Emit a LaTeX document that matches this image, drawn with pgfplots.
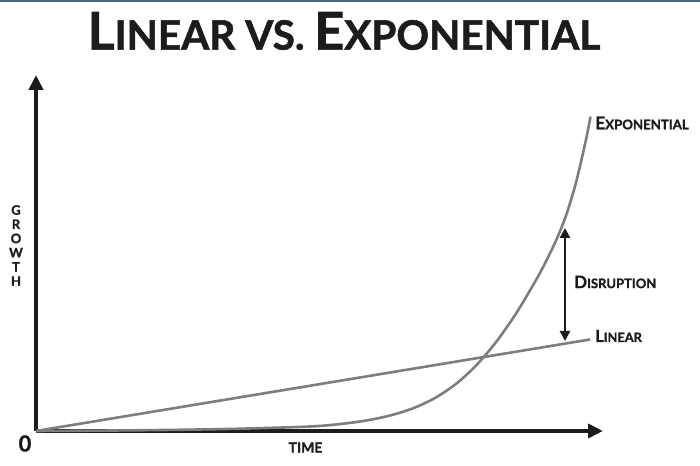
\documentclass[border=0pt]{standalone}
\usepackage{pgfplots}
\pgfplotsset{compat=1.18}
\usetikzlibrary{arrows.meta}
\usepackage{fontspec}
\setmainfont{Lato}
\newfontfamily\heavy{Lato}[BoldFeatures={FakeBold=1.3}]
\newcommand\SC[4]{{\fontsize{#1}{#1}\selectfont #3}{\fontsize{#2}{#2}\selectfont #4}}
\definecolor{curve}{RGB}{125,125,125}
\definecolor{axisblack}{RGB}{28,28,28}
\definecolor{topbar}{RGB}{74,102,133}
\begin{document}
\begin{tikzpicture}
\begin{axis}[
  x=1bp, y=1bp,
  xmin=0, xmax=567, ymin=0, ymax=356,
  enlargelimits=false,
  axis lines=left,
  axis line style={line width=4.5bp, draw=axisblack, -{Triangle[length=15bp,width=14bp]}},
  xtick=\empty, ytick=\empty,
  clip=false,
]
% bounding box of the whole picture (700 x 466 px)
\path (axis cs:-36,-35) rectangle (axis cs:664,431);
\fill[topbar] (axis cs:-36,429) rectangle (axis cs:664,431);

% linear
\addplot[curve, line width=2.6bp] coordinates {(0,0) (554,91.5)};
% exponential
\addplot[curve, line width=2.6bp, smooth, tension=0.5] coordinates {
(0,0) (50,0.3) (100,0.7) (150,1.3) (200,2.2) (250,3.6) (280,4.8) (300,6.5)
(320,8.9) (340,12.3) (360,17.1) (380,23.9) (400,33.6) (420,47.1) (440,65.4)
(460,88.9) (480,117.4) (500,150.9) (510,169.7) (520,190.4) (530,215.4)
(540,248.4) (550,291.4) (554.5,314.4)};

% disruption arrow
\draw[line width=2.4bp, axisblack, {Triangle[length=10bp,width=10bp]}-{Triangle[length=10bp,width=10bp]}]
  (axis cs:529,90) -- (axis cs:529,203);

% texts
\node[font=\heavy\bfseries, text=axisblack] at (axis cs:308,400)
  {\SC{52bp}{40.5bp}{L}{INEAR VS. }\SC{52bp}{40.5bp}{E}{XPONENTIAL}};
\node[font=\heavy\bfseries, text=axisblack, anchor=west, inner sep=0pt] at (axis cs:559,308)
  {\SC{17.5bp}{13.2bp}{E}{XPONENTIAL}};
\node[font=\heavy\bfseries, text=axisblack, anchor=west, inner sep=0pt] at (axis cs:538,149)
  {\SC{17bp}{13bp}{D}{ISRUPTION}};
\node[font=\heavy\bfseries, text=axisblack, anchor=west, inner sep=0pt] at (axis cs:559,95)
  {\SC{16.5bp}{12.8bp}{L}{INEAR}};
\node[font=\heavy\bfseries\fontsize{14bp}{14bp}\selectfont, text=axisblack] at (axis cs:269.5,-16.5) {TIME};
\node[font=\heavy\bfseries\fontsize{22bp}{22bp}\selectfont, text=axisblack] at (axis cs:-11,-12.5) {0};
\node[font=\heavy\bfseries\fontsize{13bp}{14.2bp}\selectfont, text=axisblack, align=center, inner sep=0pt] at (axis cs:-20,185.5)
  {G\\R\\O\\W\\T\\H};
\end{axis}
\end{tikzpicture}
\end{document}
